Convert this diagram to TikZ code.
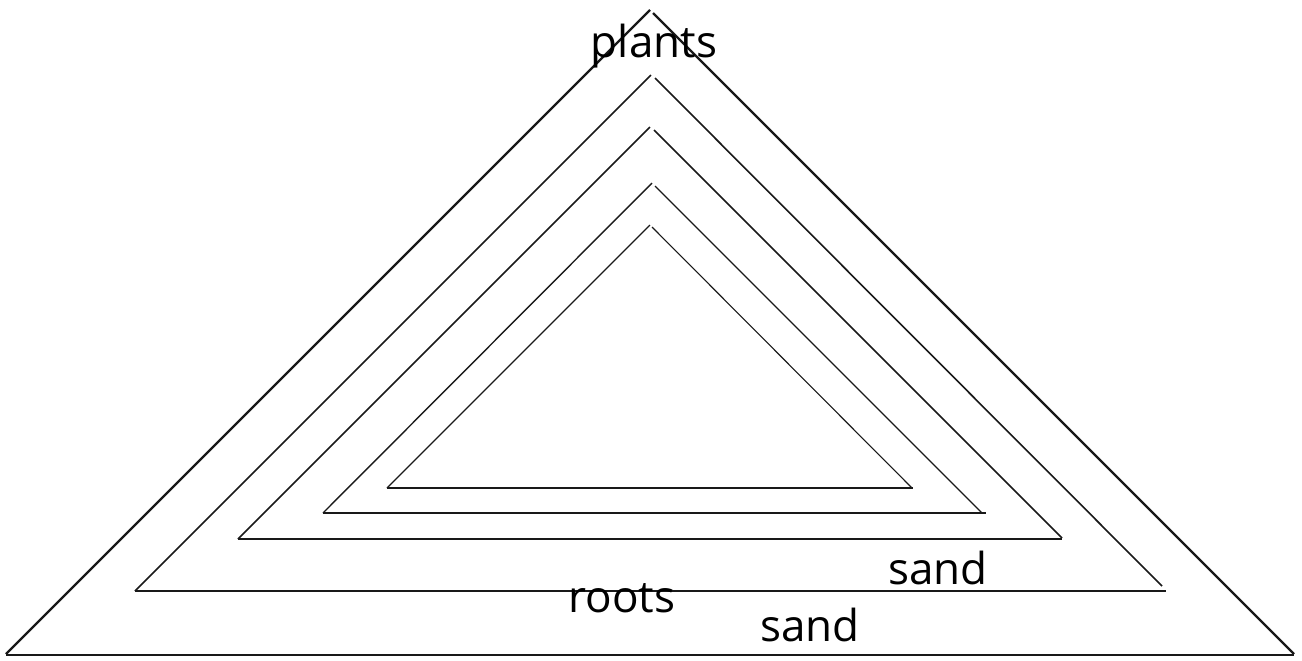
\documentclass[tikz,border=0pt]{standalone}
\usepackage{fontspec}
\setmainfont{Open Sans}
\begin{document}
\begin{tikzpicture}[x=0.5pt,y=-0.5pt,
  thick line/.style={line width=1.2pt,black!90,line cap=butt},
  thin line/.style={line width=0.8pt,black!90},
  lbl/.style={font=\fontsize{22}{26}\selectfont,inner sep=0pt,text=black}]
\useasboundingbox (0,0) rectangle (1302,660);
% outer triangle
\draw[thick line] (6,654) -- (650,10);
\draw[thick line] (653,13) -- (1294,654);
\draw[thick line] (6,655) -- (1294,655);
% second triangle
\draw[thin line] (135,591) -- (651,75);
\draw[thin line] (655,78) -- (1162,586);
\draw[thin line] (135,591) -- (1166,591);
% third triangle
\draw[thin line] (238,539) -- (650,127);
\draw[thin line] (654,130) -- (1062,538);
\draw[thin line] (238,539) -- (1062,539);
% fourth triangle
\draw[line width=0.7pt,black!90] (323,513) -- (652,183);
\draw[line width=0.7pt,black!90] (655,186) -- (982,513);
\draw[line width=0.7pt,black!90] (323,513) -- (986,513);
% fifth triangle
\draw[line width=0.55pt,black!90] (387,488) -- (650,225);
\draw[line width=0.55pt,black!90] (652,227) -- (912,488);
\draw[line width=0.55pt,black!90] (387,488) -- (913,488);
% labels
\node[lbl] (plants) at (654,46) {plants};
\node[lbl] (roots) at (622,598) {roots};
\node[lbl] (sandA) at (938,568) {sand};
\node[lbl] (sandB) at (810,625) {sand};
\end{tikzpicture}
\end{document}
